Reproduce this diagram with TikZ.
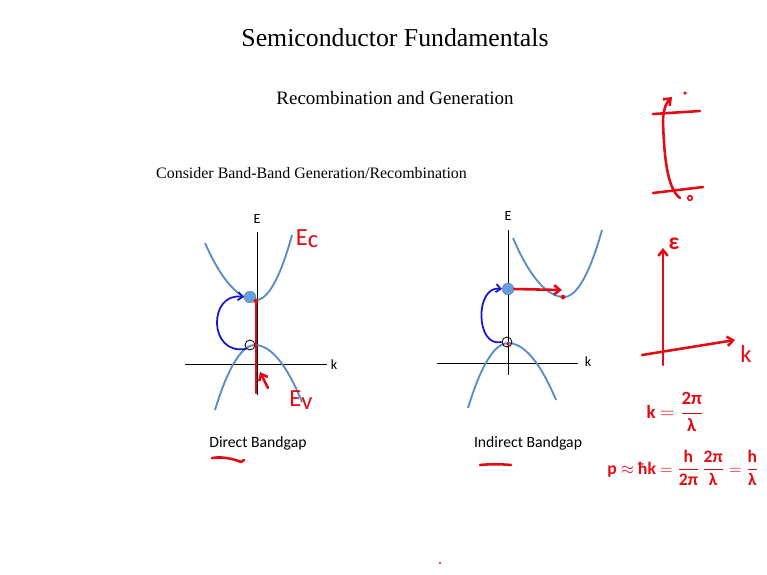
\documentclass[tikz,border=0pt]{standalone}
\usepackage{amsmath}
\usepackage{fontspec}
\setmainfont{Liberation Serif}
\newfontfamily\slidesans{Carlito}
\usepackage{tikz}
\usetikzlibrary{arrows.meta}
\definecolor{bandblue}{RGB}{92,141,196}
\definecolor{dotblue}{RGB}{104,158,222}
\definecolor{genblue}{RGB}{20,20,210}
\definecolor{pen}{RGB}{228,12,20}

\begin{document}
\begin{tikzpicture}[x=0.03cm, y=-0.03cm,
    band/.style={bandblue, line width=1.6pt},
    axis/.style={black, line width=0.7pt},
    axlabel/.style={font=\slidesans\fontsize{12}{14}\selectfont, inner sep=1pt},
    caption/.style={font=\slidesans\fontsize{13.4}{16}\selectfont},
    electron/.style={circle, fill=dotblue, draw=bandblue!80!black, line width=0.3pt, minimum size=10pt, inner sep=0pt},
    hole/.style={circle, draw=black, line width=0.7pt, minimum size=8.5pt, inner sep=0pt},
    pendot/.style={circle, fill=pen, minimum size=4pt, inner sep=0pt},
    gen/.style={genblue, line width=1.5pt, -{Straight Barb[length=4pt,width=7pt]}},
    ink/.style={pen, line width=2.2pt, line cap=round, line join=round},
    inkarrow/.style={ink, -{Straight Barb[length=5pt,width=8pt]}},
    inktext/.style={pen, font=\slidesans\fontsize{21}{24}\selectfont, inner sep=0pt},
    inkmath/.style={pen, inner sep=0pt, font=\slidesans\bfseries}]
  \path[use as bounding box, fill=white] (0,0) rectangle (767,574);
  \node[font=\fontsize{22}{26}\selectfont] (title) at (395,38) {Semiconductor Fundamentals};
  \node[font=\fontsize{16.2}{20}\selectfont] (subtitle) at (395,98) {Recombination and Generation};
  \node[font=\fontsize{13.6}{16}\selectfont, anchor=west, inner sep=0pt] (consider) at (156,173) {Consider Band-Band Generation/Recombination};

  \coordinate (eaxA) at (257,232); \coordinate (eaxB) at (257,395);
  \coordinate (kaxA) at (185,364); \coordinate (kaxB) at (327,364);
  \draw[axis] (eaxA) -- (eaxB);
  \draw[axis] (kaxA) -- (kaxB);
  \node[axlabel] (elabA) at (257,219) {E};
  \node[axlabel] (klabA) at (334,365) {k};
  \draw[band] (205,243) parabola bend (256,300) (292,235);
  \draw[band] (215,410) parabola bend (255,345) (302,402);
  \node[electron] (e1) at (250,297) {};
  \node[hole] (h1) at (250,345) {};
  \draw[gen] (h1.south west) .. controls (208,356) and (208,292) .. (e1.west);
  \node[caption] (capA) at (258,443) {Direct Bandgap};

  \coordinate (eaxC) at (508,230); \coordinate (eaxD) at (508,375);
  \coordinate (kaxC) at (437,363); \coordinate (kaxD) at (578,363);
  \draw[axis] (eaxC) -- (eaxD);
  \draw[axis] (kaxC) -- (kaxD);
  \node[axlabel] (elabB) at (508,216) {E};
  \node[axlabel] (klabB) at (588,362) {k};
  \draw[band] (513,238) parabola bend (564,297) (602,230);
  \draw[band] (468,408) parabola bend (508,343) (556,400);
  \node[electron] (e2) at (508,289) {};
  \node[hole] (h2) at (507,342) {};
  \draw[gen] (h2.west) .. controls (475,348) and (475,285) .. (e2.west);
  \node[caption] (capB) at (528,443) {Indirect Bandgap};

  \node[pendot] (r1) at (256,301) {};
  \coordinate (r1b) at (256,393);
  \draw[ink] (r1) -- (r1b);
  \coordinate (tickA) at (268,388); \coordinate (tickB) at (260,372);
  \draw[inkarrow] (tickA) -- (tickB);
  \node[inktext] (ec) at (307,239) {E\raisebox{-2pt}{c}};
  \node[inktext] (ev) at (301,400) {E\raisebox{-2pt}{v}};
  \draw[ink] (212,458) .. controls (225,456) and (236,460) .. (241,462) -- (244,460);

  \node[pendot, minimum size=3pt] (r2) at (508,344) {};
  \node[pendot] (r3) at (563,297) {};
  \coordinate (shift) at (562,290);
  \draw[inkarrow] (e2.east) -- (shift);
  \draw[ink] (480,465) .. controls (490,464) and (500,464) .. (511,465);

  \draw[ink] (653,114) -- (700,111);
  \draw[ink] (653,193) -- (703,187);
  \coordinate (jumpA) at (680,198); \coordinate (jumpB) at (672,97);
  \draw[inkarrow] (jumpA) .. controls (666,188) and (664,150) .. (663,122) .. controls (663,110) and (666,103) .. (jumpB);
  \node[pendot, minimum size=3pt] (dotup) at (685,93) {};
  \node[circle, draw=pen, line width=1.3pt, minimum size=4pt, inner sep=0pt] (dotdown) at (690,198) {};

  \coordinate (eo) at (663,365); \coordinate (etop) at (663,248);
  \coordinate (ko) at (642,355); \coordinate (kend) at (735,340);
  \draw[inkarrow] (eo) -- (etop);
  \draw[inkarrow] (ko) -- (kend);
  \node[pen, font=\slidesans\bfseries\fontsize{20}{22}\selectfont, inner sep=0pt] (epen) at (674,244) {ε};
  \node[inktext] (kpen) at (746,354) {k};

  \node[inkmath] (kdef) at (675,412) {\fontsize{16}{18}\selectfont k $=\dfrac{\text{2π}}{\text{λ}}$};
  \node[inkmath] (pdef) at (683,468) {\fontsize{15}{17}\selectfont p $\approx$ ħk $=\dfrac{\text{h}}{\text{2π}}\,\dfrac{\text{2π}}{\text{λ}}=\dfrac{\text{h}}{\text{λ}}$};
  \node[pendot, minimum size=2pt] (speck) at (440,563) {};
\end{tikzpicture}
\end{document}
